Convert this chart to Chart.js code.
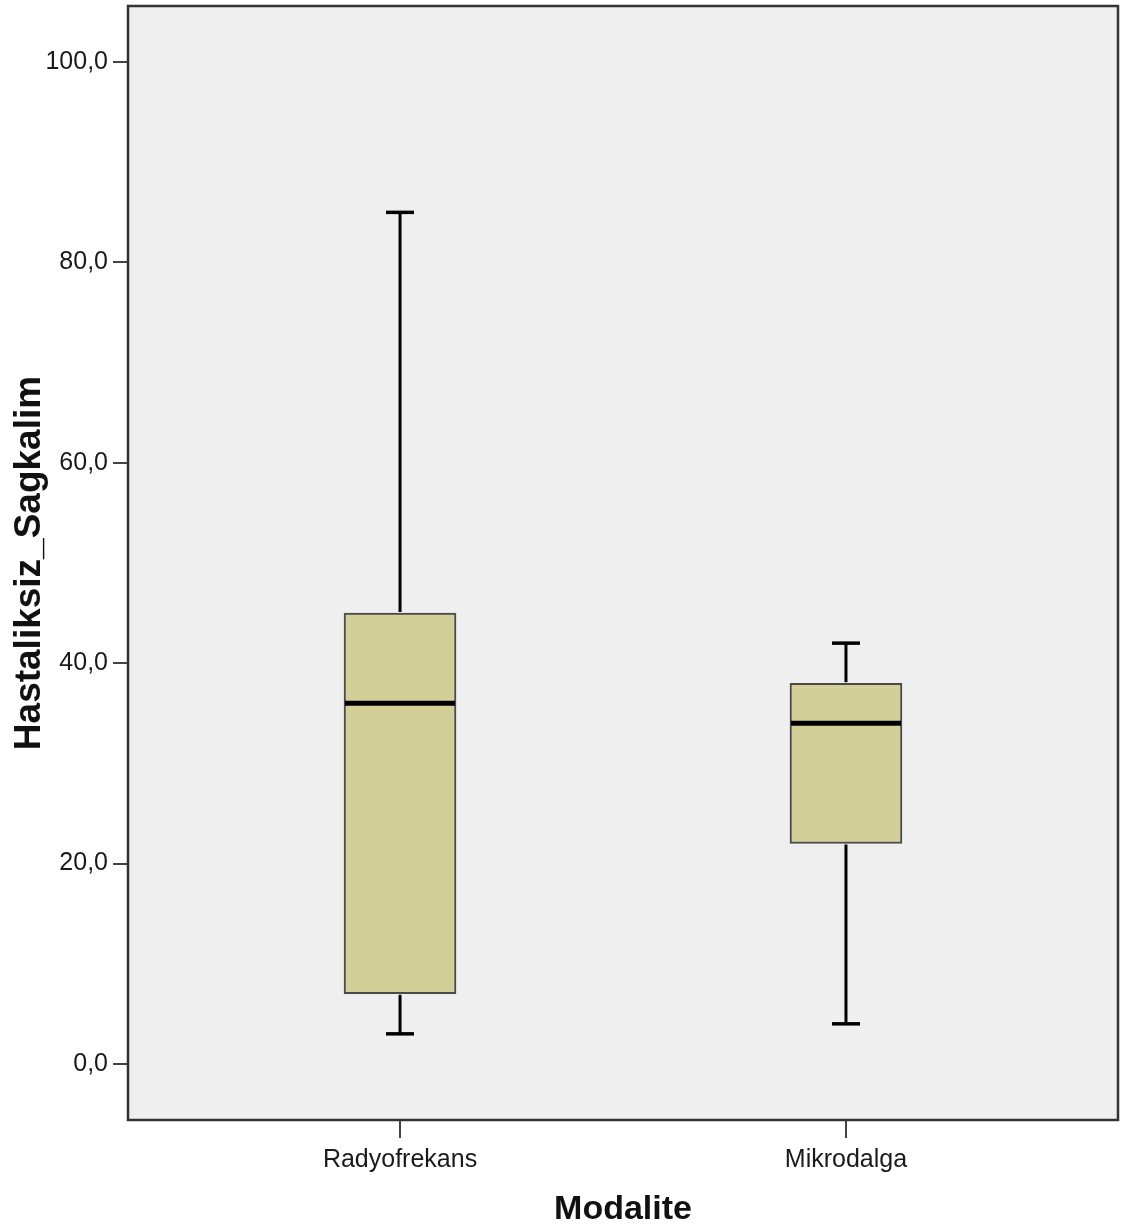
<!DOCTYPE html>
<html>
<head>
<meta charset="utf-8">
<script src="https://cdn.jsdelivr.net/npm/chart.js@4/dist/chart.umd.min.js"></script>
<style>
html,body{margin:0;padding:0;background:#fff;}
#wrap{width:1123px;height:1230px;position:relative;}
</style>
</head>
<body>
<div id="wrap"><canvas id="c"></canvas></div>
<script>
const categories = ['Radyofrekans', 'Mikrodalga'];
const mins    = [3, 4];
const q1      = [7, 22];
const medians = [36, 34];
const q3      = [45, 38];
const maxs    = [85, 42];
const yTicks  = [0, 20, 40, 60, 80, 100];

const boxExtras = {
  id: 'boxExtras',
  beforeDatasetsDraw(chart) {
    const {ctx, chartArea: a} = chart;
    ctx.save();
    ctx.fillStyle = '#efefef';
    ctx.fillRect(a.left, a.top, a.right - a.left, a.bottom - a.top);
    ctx.restore();
  },
  afterDatasetsDraw(chart) {
    const {ctx, chartArea: a} = chart;
    const ys = chart.scales.y;
    const meta = chart.getDatasetMeta(0);
    const seg = (x1, y1, x2, y2) => { ctx.beginPath(); ctx.moveTo(x1, y1); ctx.lineTo(x2, y2); ctx.stroke(); };
    ctx.save();
    ctx.strokeStyle = '#000';
    ctx.lineCap = 'butt';
    meta.data.forEach((bar, i) => {
      const x = bar.x, hw = bar.width / 2, cap = 14;
      const pMax = ys.getPixelForValue(maxs[i]);
      const pMin = ys.getPixelForValue(mins[i]);
      const pQ3 = ys.getPixelForValue(q3[i]);
      const pQ1 = ys.getPixelForValue(q1[i]);
      const pMed = ys.getPixelForValue(medians[i]);
      ctx.lineWidth = 3;
      seg(x, pQ3 - 1, x, pMax);
      seg(x, pQ1 + 1, x, pMin);
      ctx.lineWidth = 3.5;
      seg(x - cap, pMax, x + cap, pMax);
      seg(x - cap, pMin, x + cap, pMin);
      ctx.lineWidth = 5;
      seg(x - hw + 1, pMed, x + hw - 1, pMed);
    });
    ctx.strokeStyle = '#333';
    ctx.lineWidth = 2.5;
    ctx.strokeRect(a.left, a.top, a.right - a.left, a.bottom - a.top);
    ctx.restore();
  }
};

const fmt = v => Number(v).toFixed(1).replace('.', ',');

new Chart(document.getElementById('c'), {
  type: 'bar',
  data: {
    datasets: [{
      data: categories.map((c, i) => ({x: i, y: [q1[i], q3[i]]})),
      backgroundColor: '#d3cf99',
      borderColor: '#4a4a4a',
      borderWidth: 2,
      borderSkipped: false,
      barThickness: 112
    }]
  },
  options: {
    responsive: true,
    maintainAspectRatio: false,
    animation: false,
    layout: {padding: {top: 6, right: 5, left: 0, bottom: 0}},
    plugins: {legend: {display: false}, tooltip: {enabled: false}},
    scales: {
      x: {
        type: 'linear',
        min: -0.61,
        max: 1.61,
        offset: false,
        afterBuildTicks: s => { s.ticks = categories.map((c, i) => ({value: i})); },
        afterFit: s => { s.height = 110; s.paddingLeft = 0; s.paddingRight = 0; },
        grid: {offset: false, drawOnChartArea: false, drawTicks: true, tickLength: 18, color: '#444', lineWidth: 2},
        border: {display: false},
        ticks: {
          autoSkip: false,
          maxRotation: 0,
          padding: 7,
          color: '#1a1a1a',
          font: {family: 'Liberation Sans, Arial, sans-serif', size: 25},
          callback: v => categories[v] ?? ''
        },
        title: {
          display: true,
          text: 'Modalite',
          color: '#111',
          font: {family: 'Liberation Sans, Arial, sans-serif', size: 34, weight: 'bold'},
          padding: {top: 0, bottom: 0}
        }
      },
      y: {
        type: 'linear',
        min: -5.6,
        max: 105.6,
        afterBuildTicks: s => { s.ticks = yTicks.map(v => ({value: v})); },
        afterFit: s => { s.width = 128; s.paddingTop = 0; s.paddingBottom = 0; },
        grid: {drawOnChartArea: false, drawTicks: true, tickLength: 15, color: '#444', lineWidth: 2},
        border: {display: false},
        ticks: {
          padding: 5,
          color: '#1a1a1a',
          font: {family: 'Liberation Sans, Arial, sans-serif', size: 25},
          callback: v => fmt(v)
        },
        title: {
          display: true,
          text: 'Hastaliksiz_Sagkalim',
          color: '#111',
          font: {family: 'Liberation Sans, Arial, sans-serif', size: 37, weight: 'bold'},
          padding: {top: 8, bottom: 0}
        }
      }
    }
  },
  plugins: [boxExtras]
});
</script>
</body>
</html>
